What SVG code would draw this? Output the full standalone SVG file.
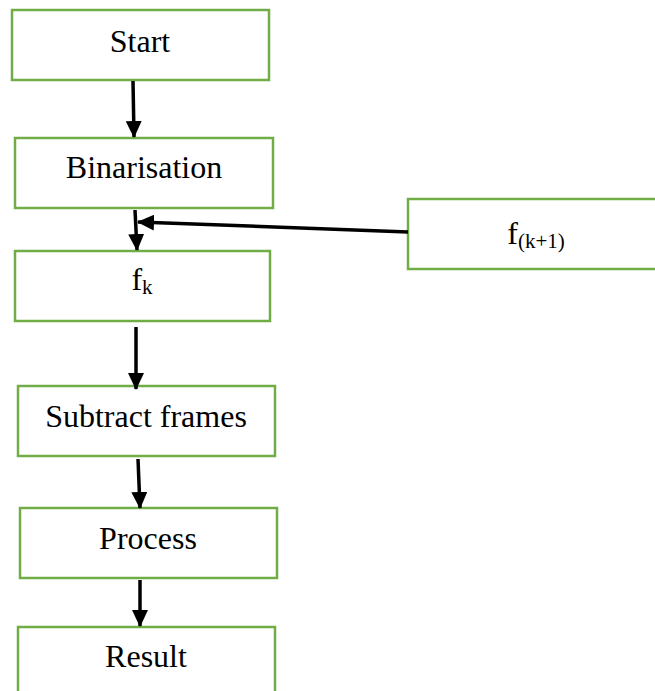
<svg xmlns="http://www.w3.org/2000/svg" width="655" height="691" viewBox="0 0 655 691">
<style>
.box{fill:#fff;stroke:#70AD47;stroke-width:2.5}
.lbl{font-family:"Liberation Serif","Times New Roman",serif;font-size:32px;fill:#000;text-anchor:middle}
.sub{font-size:21px}
.con{stroke:#000;stroke-width:3.5;fill:none;marker-end:url(#ah)}
</style>
<defs>
<marker id="ah" markerUnits="userSpaceOnUse" markerWidth="17" markerHeight="16" refX="16" refY="8" orient="auto">
<path d="M0,0 L17,8 L0,16 z" fill="#000"/>
</marker>
</defs>
<rect width="655" height="691" fill="#fff"/>
<g id="start"><rect class="box" x="12" y="10" width="257" height="70"/><text class="lbl" x="140" y="52">Start</text></g>
<g id="binarisation"><rect class="box" x="15" y="138" width="258" height="70"/><text class="lbl" x="144" y="178">Binarisation</text></g>
<g id="fk1"><rect class="box" x="408" y="199" width="252" height="70"/><text class="lbl" x="536" y="244">f<tspan class="sub" dy="4">(k+1)</tspan></text></g>
<g id="fk"><rect class="box" x="15" y="251" width="255" height="70"/><text class="lbl" x="142" y="290">f<tspan class="sub" dy="4">k</tspan></text></g>
<g id="subtract"><rect class="box" x="18" y="386" width="257" height="70"/><text class="lbl" x="146" y="427">Subtract frames</text></g>
<g id="process"><rect class="box" x="20" y="508" width="257" height="70"/><text class="lbl" x="148" y="549">Process</text></g>
<g id="result"><rect class="box" x="18" y="627" width="257" height="70"/><text class="lbl" x="146" y="667">Result</text></g>
<g id="connectors">
<line class="con" x1="133" y1="81" x2="134" y2="137"/>
<line class="con" x1="135" y1="210" x2="137" y2="250"/>
<line class="con" x1="408" y1="232" x2="138" y2="222"/>
<line class="con" x1="136" y1="327" x2="136" y2="389"/>
<line class="con" x1="138" y1="459" x2="140" y2="508"/>
<line class="con" x1="140" y1="580" x2="140" y2="626"/>
</g>
</svg>
